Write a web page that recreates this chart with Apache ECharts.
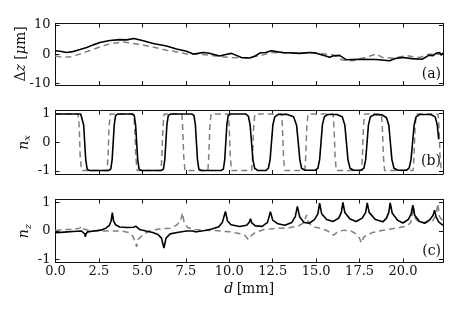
<!DOCTYPE html>
<html><head><meta charset="utf-8">
<script src="https://cdn.jsdelivr.net/npm/echarts@6/dist/echarts.min.js"></script>
<style>html,body{margin:0;padding:0;background:#fff}#c{width:460px;height:320px}</style>
</head><body><div id="c"></div>
<script>
// ---- data ----
const xTicks = [0, 2.5, 5, 7.5, 10, 12.5, 15, 17.5, 20];
const dzTicks = [-10, 0, 10];
const nTicks = [-1, 0, 1];
const panelLabels = ['(a)', '(b)', '(c)'];

// panel (a): Δz [μm]
const dzSolid = [[0,1.2],[0.26,1.0],[0.64,0.6],[1.0,0.9],[1.41,1.6],[1.8,2.3],[2.17,3.2],[2.56,4.0],[3.13,4.7],[3.7,5.0],[4.09,4.9],[4.51,5.4],[5.05,4.6],[5.62,3.7],[6.39,2.8],[6.96,1.8],[7.54,1.0],[7.92,0.1],[8.2,0.3],[8.49,0.6],[8.78,0.4],[9.45,-0.6],[9.8,-0.1],[10.13,0.3],[10.7,-1.1],[11.18,-1.3],[11.5,-0.6],[11.75,0.4],[12.1,0.6],[12.42,1.2],[12.8,0.8],[13.1,0.6],[14.05,0.3],[14.63,0.6],[14.9,0.5],[15.5,-0.5],[15.78,-1.0],[16.0,-0.5],[16.35,-0.4],[16.74,-1.9],[17.1,-1.8],[17.5,-1.7],[18.46,-1.8],[19.22,-2.2],[19.6,-1.4],[20.0,-1.1],[20.5,-1.5],[21.1,-1.7],[21.5,-0.3],[21.7,-0.5],[21.9,0.3],[22.0,-0.2],[22.1,0.6],[22.2,-0.3],[22.3,0.4]];
const dzDashed = [[0,-0.6],[0.26,-0.9],[0.83,-0.9],[1.41,0.1],[2.17,1.7],[2.7,2.8],[3.13,3.6],[3.9,4.2],[4.67,3.5],[5.43,2.7],[6.39,1.4],[7.0,0.8],[7.54,0.1],[8.3,0.0],[8.8,-0.3],[9.45,-0.8],[10.2,-1.1],[11.0,-1.3],[11.4,-0.8],[11.9,-0.3],[12.4,0.6],[12.9,0.5],[13.5,0.3],[14.2,0.4],[15.0,0.4],[15.97,-0.2],[16.5,-2.0],[17.1,-2.2],[17.7,-1.3],[18.1,-0.6],[18.46,0.1],[18.8,-1.1],[19.4,-1.3],[20.2,-0.5],[20.95,-1.1],[21.5,0.0],[22.3,0.0]];

// panel (b): n_x
const nxSolid = [[0,0.98],[1.45,0.98],[1.55,0.93],[1.62,0.6],[1.68,0],[1.74,-0.6],[1.82,-0.93],[1.95,-0.98],
[3.05,-0.98],[3.18,-0.93],[3.26,-0.6],[3.32,0],[3.38,0.6],[3.46,0.93],[3.6,0.98],
[4.4,0.98],[4.53,0.93],[4.61,0.6],[4.67,0],[4.73,-0.6],[4.81,-0.93],[4.95,-0.98],
[6.08,-0.98],[6.21,-0.93],[6.29,-0.6],[6.35,0],[6.41,0.6],[6.49,0.93],[6.63,0.98],
[7.84,0.98],[7.97,0.93],[8.05,0.6],[8.11,0],[8.17,-0.6],[8.25,-0.93],[8.39,-0.98],
[9.53,-0.98],[9.66,-0.93],[9.74,-0.6],[9.8,0],[9.86,0.6],[9.94,0.93],[10.1,0.98],
[10.95,0.98],[11.1,0.9],[11.2,0.6],[11.28,0],[11.36,-0.6],[11.46,-0.9],[11.65,-0.98],
[12.1,-0.98],[12.25,-0.9],[12.35,-0.6],[12.43,0],[12.51,0.6],[12.62,0.88],[12.8,0.96],[13.3,0.97],[13.7,0.88],[13.87,0.6],[13.97,0],[14.06,-0.6],[14.16,-0.9],[14.35,-0.97],
[14.95,-0.97],[15.1,-0.9],[15.2,-0.6],[15.28,0],[15.36,0.6],[15.47,0.88],[15.65,0.96],[16.2,0.96],[16.5,0.88],[16.65,0.6],[16.74,0],[16.83,-0.6],[16.95,-0.9],[17.15,-0.97],
[17.6,-0.97],[17.75,-0.9],[17.85,-0.6],[17.93,0],[18.01,0.6],[18.12,0.88],[18.35,0.96],[18.8,0.95],[19.05,0.85],[19.18,0.6],[19.27,0],[19.36,-0.6],[19.48,-0.9],[19.7,-0.97],
[20.2,-0.97],[20.35,-0.9],[20.46,-0.6],[20.55,0],[20.64,0.6],[20.75,0.88],[20.95,0.96],[21.6,0.96],[21.85,0.88],[21.97,0.6],[22.05,0.1]];
const nxDashed = [[0,0.98],[1.3,0.98],[1.37,0.5],[1.42,-0.5],[1.5,-0.98],
[2.97,-0.98],[3.02,-0.5],[3.08,0.5],[3.15,0.98],
[4.5,0.98],[4.56,0.5],[4.62,-0.5],[4.7,-0.98],
[6.07,-0.98],[6.12,-0.5],[6.18,0.5],[6.25,0.98],
[7.27,0.98],[7.32,0.5],[7.38,-0.5],[7.45,-0.98],
[8.77,-0.98],[8.82,-0.5],[8.88,0.5],[8.95,0.98],
[9.95,0.98],[10.0,0.5],[10.06,-0.5],[10.13,-0.98],
[11.29,-0.98],[11.34,-0.5],[11.4,0.5],[11.47,0.98],
[13.01,0.98],[13.06,0.5],[13.12,-0.5],[13.19,-0.98],
[14.35,-0.98],[14.4,-0.5],[14.46,0.5],[14.53,0.98],
[15.98,0.98],[16.03,0.5],[16.09,-0.5],[16.16,-0.98],
[17.61,-0.98],[17.66,-0.5],[17.72,0.5],[17.79,0.98],
[18.76,0.98],[18.81,0.5],[18.87,-0.5],[18.94,-0.98],
[20.58,-0.98],[20.63,-0.5],[20.69,0.5],[20.76,0.98],
[22.02,0.98],[22.07,0.5],[22.13,-0.5],[22.2,-0.98],[22.3,-0.98]];

// panel (c): n_z
const nzSolid = [[0,-0.06],[0.5,-0.04],[1.0,-0.02],[1.5,0.0],[1.6,-0.03],[1.68,-0.1],[1.72,-0.2],[1.76,-0.1],[1.85,-0.03],
[2.2,0.0],[2.6,0.03],[2.9,0.1],[3.1,0.2],[3.2,0.35],[3.27,0.64],[3.34,0.35],[3.45,0.22],[3.7,0.14],[4.1,0.12],[4.5,0.13],[4.62,0.17],[4.67,0.23],[4.72,0.15],[4.85,0.05],
[5.2,0.0],[5.6,-0.05],[5.9,-0.12],[6.1,-0.25],[6.24,-0.6],[6.36,-0.25],[6.6,-0.1],[7.0,-0.05],[7.54,0.0],[7.9,0.0],[8.05,-0.03],[8.11,-0.08],[8.2,-0.02],
[8.6,0.02],[9.0,0.07],[9.4,0.15],[9.6,0.3],[9.78,0.68],[9.9,0.35],[10.1,0.22],[10.6,0.16],[11.0,0.2],[11.15,0.3],[11.22,0.43],[11.3,0.28],[11.5,0.18],
[11.9,0.16],[12.2,0.3],[12.37,0.67],[12.5,0.38],[12.8,0.25],[13.2,0.2],[13.6,0.3],[13.8,0.5],[13.92,0.86],[14.05,0.5],[14.3,0.3],[14.6,0.27],
[14.9,0.4],[15.1,0.6],[15.2,0.97],[15.32,0.6],[15.6,0.4],[15.97,0.33],[16.3,0.45],[16.45,0.65],[16.54,1.0],[16.65,0.65],[16.95,0.42],[17.3,0.33],
[17.65,0.45],[17.85,0.65],[17.94,0.98],[18.05,0.65],[18.4,0.4],[18.84,0.32],[19.05,0.45],[19.18,0.65],[19.26,0.98],[19.38,0.62],[19.7,0.37],[19.99,0.28],
[20.3,0.4],[20.47,0.6],[20.56,0.9],[20.67,0.55],[20.95,0.33],[21.24,0.27],[21.55,0.4],[21.73,0.55],[21.81,0.73],[21.9,0.5],[22.05,0.32],[22.3,0.2]];
const nzDashed = [[0,0.02],[0.5,0.05],[1.0,0.05],[1.4,0.1],[1.5,0.17],[1.6,0.08],[1.9,0.02],[2.5,0.0],[3.2,0.0],[3.8,0.0],[4.2,-0.05],[4.45,-0.18],[4.6,-0.4],[4.67,-0.55],[4.75,-0.3],[5.05,-0.12],
[5.5,0.03],[6.0,0.07],[6.6,0.1],[6.96,0.2],[7.2,0.35],[7.31,0.63],[7.4,0.3],[7.6,0.12],[8.0,0.05],[8.5,0.03],[9.0,0.02],[9.5,0.0],[10.0,-0.03],[10.5,-0.08],[10.9,-0.15],[11.1,-0.3],[11.2,-0.2],[11.5,-0.05],
[12.0,0.05],[12.5,0.08],[13.0,0.1],[13.5,0.12],[14.0,0.18],[14.3,0.3],[14.45,0.56],[14.55,0.3],[14.8,0.15],[15.2,0.1],[15.6,0.02],[15.9,-0.08],[16.0,-0.15],[16.2,-0.05],[16.6,0.03],
[17.0,0.0],[17.3,-0.1],[17.5,-0.25],[17.6,-0.42],[17.75,-0.2],[18.26,-0.05],[18.8,0.02],[19.22,0.06],[19.8,0.12],[20.2,0.17],[20.45,0.3],[20.6,0.85],[20.7,0.45],[20.9,0.32],[21.3,0.3],[21.7,0.35],[21.9,0.55],[22.0,0.95],[22.1,0.5],[22.3,0.35]];

// ---- chart ----
const FONT = 'DejaVu Serif';
const XMAX = 22.3;
const grids = [
  {left: 55.5, right: 17, top: 23.5, height: 61.5},
  {left: 55.5, right: 17, top: 110.5, height: 63.5},
  {left: 55.5, right: 17, top: 199.5, height: 63}
];
const line = {show: true, onZero: false, lineStyle: {color: '#111', width: 1}};
const tick = (vals) => ({show: true, inside: true, length: 4, customValues: vals, lineStyle: {color: '#111', width: 1}});
const xAxes = [], yAxes = [];
const yRanges = [[-10.5, 10.5, dzTicks], [-1.1, 1.1, nTicks], [-1.1, 1.1, nTicks]];
const yNames = ['{n|Δ}{i|z} {n|[}{i|μ}{n|m]}', '{i|n}{s|x}', '{i|n}{s|z}'];
const rich = {
  n: {fontFamily: FONT, fontSize: 14, fill: '#111', color: '#111'},
  i: {fontFamily: FONT, fontSize: 14, fontStyle: 'italic', fill: '#111', color: '#111'},
  s: {fontFamily: FONT, fontSize: 10, fontStyle: 'italic', fill: '#111', color: '#111', padding: [7, 0, 0, 0]}
};
for (let g = 0; g < 3; g++) {
  const last = g === 2;
  xAxes.push({type: 'value', gridIndex: g, min: 0, max: XMAX, position: 'bottom',
    axisLine: line, axisTick: tick(xTicks), splitLine: {show: false},
    axisLabel: last ? {show: true, customValues: xTicks, margin: 3, fontFamily: FONT, fontSize: 13, color: '#111',
      formatter: v => v.toFixed(1)} : {show: false},
    name: last ? '{i|d} {n|[mm]}' : '', nameLocation: 'middle', nameGap: 20,
    nameTextStyle: {rich: rich}});
  xAxes.push({type: 'value', gridIndex: g, min: 0, max: XMAX, position: 'top',
    axisLine: line, axisTick: tick(xTicks), axisLabel: {show: false}, splitLine: {show: false}});
  const [mn, mx, tv] = yRanges[g];
  yAxes.push({type: 'value', gridIndex: g, min: mn, max: mx, position: 'left',
    axisLine: line, axisTick: tick(tv), splitLine: {show: false},
    axisLabel: {show: true, customValues: tv, margin: 5, fontFamily: FONT, fontSize: 13, color: '#111',
      formatter: v => String(v)}});
  yAxes.push({type: 'value', gridIndex: g, min: mn, max: mx, position: 'right',
    axisLine: line, axisTick: tick(tv), axisLabel: {show: false}, splitLine: {show: false}});
}
const solidStyle = {color: '#000', width: 1.6};
const dashStyle = {color: '#808080', width: 1.5, type: [6, 4]};
const pairs = [[dzSolid, dzDashed], [nxSolid, nxDashed], [nzSolid, nzDashed]];
const series = [];
pairs.forEach((p, g) => {
  series.push({type: 'line', xAxisIndex: 2 * g, yAxisIndex: 2 * g, data: p[1], showSymbol: false,
    lineStyle: dashStyle, silent: true, animation: false, clip: true, z: 2});
  series.push({type: 'line', xAxisIndex: 2 * g, yAxisIndex: 2 * g, data: p[0], showSymbol: false,
    lineStyle: solidStyle, silent: true, animation: false, clip: true, z: 3});
});
const labelY = [76, 163, 253];
const nameCenters = [[21.7, 54], [24, 142.5], [24.5, 231]];
const graphic = panelLabels.map((t, g) => ({type: 'text', right: 19, top: labelY[g] - 9,
  style: {text: t, fontFamily: FONT, fontSize: 14, fill: '#111'}}));
yNames.forEach((t, g) => graphic.push({type: 'text', x: nameCenters[g][0], y: nameCenters[g][1], rotation: Math.PI / 2,
  style: {text: t, rich: rich, align: 'center', verticalAlign: 'middle', fill: '#111', fontFamily: FONT, fontSize: 14}}));
const chart = echarts.init(document.getElementById('c'), null, {renderer: 'canvas'});
chart.setOption({animation: false, backgroundColor: '#fff', grid: grids, xAxis: xAxes, yAxis: yAxes, series: series, graphic: graphic});
</script></body></html>
